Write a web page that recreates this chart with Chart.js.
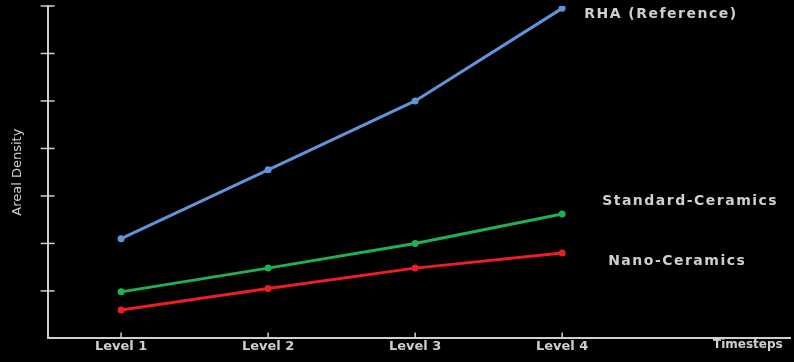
<!DOCTYPE html>
<html>
<head>
<meta charset="utf-8">
<script src="https://cdn.jsdelivr.net/npm/chart.js@4"></script>
<style>
  html, body { margin: 0; padding: 0; background: #000; }
  #wrap { width: 794px; height: 362px; }
</style>
</head>
<body>
<div id="wrap"><canvas id="myChart"></canvas></div>
<script>
var levels = ['Level 1', 'Level 2', 'Level 3', 'Level 4'];
var seriesNames = ['RHA (Reference)', 'Standard-Ceramics', 'Nano-Ceramics'];
var rhaValues = [2.1, 3.55, 5.0, 6.95];
var standardValues = [0.98, 1.48, 2.0, 2.62];
var nanoValues = [0.6, 1.05, 1.48, 1.8];
var seriesColors = ['#6193d9', '#1faf55', '#ee1c25'];
var labelOffsets = [[22, 6], [40, -13], [46, 8]];
var textColor = '#cfcfcf';
var axisColor = '#cfcfcf';

function toPoints(values) {
    return values.map(function (v, i) {
        return { x: i + 1, y: v };
    });
}

// ticks crossing the axes and labels next to the line ends
var decorations = {
    id: 'decorations',
    afterDraw: function (chart) {
        var ctx = chart.ctx;
        var xs = chart.scales.x;
        var ys = chart.scales.y;
        ctx.save();
        ctx.strokeStyle = axisColor;
        ctx.lineWidth = 1.5;
        for (var t = 1; t <= 7; t++) {
            var py = ys.getPixelForValue(t);
            ctx.beginPath();
            ctx.moveTo(xs.left - 7, py);
            ctx.lineTo(xs.left + 7, py);
            ctx.stroke();
        }
        for (var i = 0; i < levels.length; i++) {
            var px = xs.getPixelForValue(i + 1);
            ctx.beginPath();
            ctx.moveTo(px, ys.bottom - 6);
            ctx.lineTo(px, ys.bottom);
            ctx.stroke();
        }
        ctx.font = 'bold 14px "DejaVu Sans"';
        ctx.letterSpacing = '1.5px';
        ctx.fillStyle = textColor;
        ctx.textBaseline = 'middle';
        chart.data.datasets.forEach(function (ds, k) {
            var meta = chart.getDatasetMeta(k);
            var last = meta.data[meta.data.length - 1];
            ctx.fillText(seriesNames[k], last.x + labelOffsets[k][0], last.y + labelOffsets[k][1]);
        });
        ctx.font = 'bold 12px "DejaVu Sans"';
        ctx.letterSpacing = '0px';
        ctx.fillText('Timesteps', 713, ys.bottom + 6);
        ctx.restore();
    }
};

var ctx = document.getElementById('myChart').getContext('2d');
var myChart = new Chart(ctx, {
    type: 'line',
    data: {
        datasets: [
            { label: seriesNames[0], data: toPoints(rhaValues) },
            { label: seriesNames[1], data: toPoints(standardValues) },
            { label: seriesNames[2], data: toPoints(nanoValues) }
        ].map(function (ds, k) {
            ds.borderColor = seriesColors[k];
            ds.backgroundColor = seriesColors[k];
            ds.borderWidth = 3;
            ds.pointRadius = 3.5;
            ds.pointBorderWidth = 0;
            ds.tension = 0;
            return ds;
        })
    },
    options: {
        responsive: true,
        maintainAspectRatio: false,
        animation: false,
        layout: { padding: { top: 6, left: 10, right: 0, bottom: 8 } },
        plugins: { legend: { display: false }, tooltip: { enabled: false } },
        scales: {
            x: {
                type: 'linear',
                min: 0.5,
                max: 5.55,
                afterBuildTicks: function (scale) {
                    scale.ticks = levels.map(function (l, i) { return { value: i + 1 }; });
                },
                ticks: {
                    color: textColor,
                    font: { family: 'DejaVu Sans', size: 13, weight: 'bold' },
                    padding: 0,
                    maxRotation: 0,
                    callback: function (v) { return levels[v - 1]; }
                },
                grid: { display: false, drawTicks: false },
                border: { color: axisColor, width: 2 }
            },
            y: {
                min: 0,
                max: 7,
                ticks: { display: false, stepSize: 1 },
                grid: { display: false, drawTicks: false },
                border: { color: axisColor, width: 2 },
                title: {
                    display: true,
                    text: 'Areal Density',
                    color: textColor,
                    font: { family: 'DejaVu Sans', size: 13 },
                    padding: { top: 0, bottom: 22 }
                }
            }
        }
    },
    plugins: [decorations]
});
</script>
</body>
</html>
